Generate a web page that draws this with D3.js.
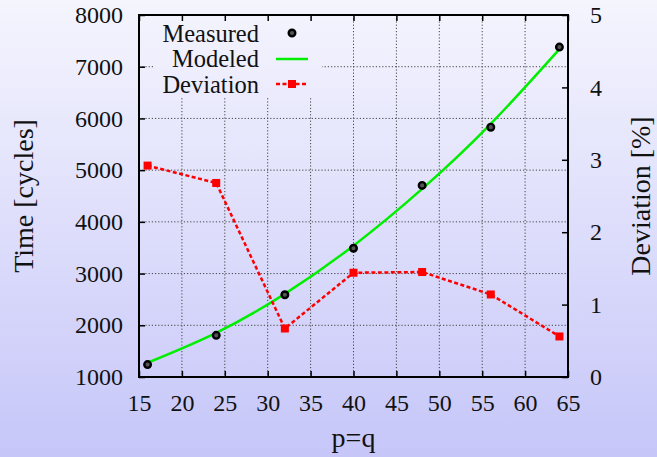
<!DOCTYPE html>
<html lang='en'>
	<head>
		<meta charset='utf-8'>
		<title>Time vs p=q</title>
		<script type='text/javascript' src='https://cdn.jsdelivr.net/npm/d3@7/dist/d3.min.js'></script>
		<style>
			html, body { margin: 0; padding: 0; }
			svg { display: block; }
			.tick line { stroke: #000; stroke-width: 1.5px; }
			g.grid line { stroke: #444; stroke-width: 1px; stroke-dasharray: 1.2,2; }
		</style>
	</head>
	<body>
		<script type='text/javascript'>
			var width = 657;
			var height = 457;
			var serif = "Liberation Serif, DejaVu Serif, serif";

			// data
			var pq = [16, 24, 32, 40, 48, 56, 64];
			var measured = [1240, 1806, 2590, 3490, 4705, 5830, 7380];
			var modeled = [1276, 1854, 2607, 3540, 4637, 5896, 7340];
			var deviation = [2.92, 2.68, 0.67, 1.44, 1.45, 1.14, 0.56];

			var xTicks = [15, 20, 25, 30, 35, 40, 45, 50, 55, 60, 65];
			var yTicks = [1000, 2000, 3000, 4000, 5000, 6000, 7000, 8000];
			var y2Ticks = [0, 1, 2, 3, 4, 5];
			var legendNames = ['Measured', 'Modeled', 'Deviation'];

			var pLeft = 139, pRight = 568, pTop = 15, pBottom = 377;

			var x = d3.scaleLinear().domain([15, 65]).range([pLeft, pRight]);
			var y = d3.scaleLinear().domain([1000, 8000]).range([pBottom, pTop]);
			var y2 = d3.scaleLinear().domain([0, 5]).range([pBottom, pTop]);

			var svg = d3.select('body').append('svg')
				.attr('width', width)
				.attr('height', height)
				.style('font-family', serif);

			var defs = svg.append('defs');
			var grad = defs.append('linearGradient')
				.attr('id', 'bg')
				.attr('gradientUnits', 'userSpaceOnUse')
				.attr('x1', 0).attr('y1', 0).attr('x2', 0).attr('y2', height);
			grad.append('stop').attr('offset', '0%').attr('stop-color', '#f5f5fe');
			grad.append('stop').attr('offset', '100%').attr('stop-color', '#c6c6f9');

			svg.append('rect')
				.attr('width', width).attr('height', height)
				.attr('fill', 'url(#bg)');

			// grid
			var grid = svg.append('g').attr('class', 'grid');
			grid.selectAll('line.v')
				.data(xTicks.slice(1, -1))
				.enter().append('line')
					.attr('class', 'v')
					.attr('x1', function(d) { return x(d); })
					.attr('x2', function(d) { return x(d); })
					.attr('y1', pTop).attr('y2', pBottom);
			grid.selectAll('line.h')
				.data(yTicks.slice(1, -1))
				.enter().append('line')
					.attr('class', 'h')
					.attr('x1', pLeft).attr('x2', pRight)
					.attr('y1', function(d) { return y(d); })
					.attr('y2', function(d) { return y(d); });

			// legend box blanks the grid behind it
			svg.append('rect')
				.attr('x', 155).attr('y', pTop + 1)
				.attr('width', 167).attr('height', 81)
				.attr('fill', 'url(#bg)');

			// axes
			function styleAxis(g) {
				g.select('.domain').remove();
				g.selectAll('.tick text')
					.style('font-family', serif)
					.style('font-size', '24px')
					.attr('fill', '#111');
			}
			svg.append('g')
				.attr('transform', 'translate(0,' + pBottom + ')')
				.call(d3.axisBottom(x).tickValues(xTicks).tickSize(-6).tickPadding(17))
				.call(styleAxis);
			svg.append('g')
				.attr('transform', 'translate(0,' + pTop + ')')
				.call(d3.axisTop(x).tickValues(xTicks).tickSize(-6).tickFormat(''))
				.call(styleAxis);
			svg.append('g')
				.attr('transform', 'translate(' + pLeft + ',0)')
				.call(d3.axisLeft(y).tickValues(yTicks).tickSize(-6).tickPadding(16).tickFormat(d3.format('d')))
				.call(styleAxis);
			svg.append('g')
				.attr('transform', 'translate(' + pRight + ',0)')
				.call(d3.axisRight(y2).tickValues(y2Ticks).tickSize(-6).tickPadding(22).tickFormat(d3.format('d')))
				.call(styleAxis);

			svg.append('rect')
				.attr('x', pLeft).attr('y', pTop)
				.attr('width', pRight - pLeft).attr('height', pBottom - pTop)
				.attr('fill', 'none')
				.attr('stroke', '#000')
				.attr('stroke-width', 2);

			// labels
			function label(sel) {
				sel.style('font-size', '28px').attr('fill', '#111').attr('text-anchor', 'middle');
			}
			svg.append('text').call(label)
				.attr('transform', 'translate(33,' + ((pTop + pBottom) / 2) + ') rotate(-90)')
				.text('Time [cycles]');
			svg.append('text').call(label)
				.attr('transform', 'translate(650,' + ((pTop + pBottom) / 2) + ') rotate(-90)')
				.text('Deviation [%]');
			svg.append('text').call(label)
				.attr('x', (pLeft + pRight) / 2).attr('y', 447)
				.text('p=q');

			var points = pq.map(function(d, i) {
				return { p: d, m: measured[i], f: modeled[i], dev: deviation[i] };
			});

			// modeled curve
			svg.append('path')
				.datum(points)
				.attr('fill', 'none')
				.attr('stroke', '#00ee00')
				.attr('stroke-width', 2.5)
				.attr('d', d3.line()
					.curve(d3.curveNatural)
					.x(function(d) { return x(d.p); })
					.y(function(d) { return y(d.f); }));

			// measured points
			function dot(sel) {
				sel.attr('r', 3.3)
					.attr('fill', '#555')
					.attr('stroke', '#000')
					.attr('stroke-width', 2.4);
			}
			svg.append('g').selectAll('circle')
				.data(points)
				.enter().append('circle')
					.attr('cx', function(d) { return x(d.p); })
					.attr('cy', function(d) { return y(d.m); })
					.call(dot);

			// deviation
			svg.append('path')
				.datum(points)
				.attr('fill', 'none')
				.attr('stroke', '#ff0000')
				.attr('stroke-width', 2.5)
				.attr('stroke-dasharray', '4,2.5')
				.attr('d', d3.line()
					.x(function(d) { return x(d.p); })
					.y(function(d) { return y2(d.dev); }));
			svg.append('g').selectAll('rect')
				.data(points)
				.enter().append('rect')
					.attr('x', function(d) { return x(d.p) - 4; })
					.attr('y', function(d) { return y2(d.dev) - 4; })
					.attr('width', 8).attr('height', 8)
					.attr('fill', '#ff0000');

			// legend
			var legend = svg.append('g');
			legend.selectAll('text')
				.data(legendNames)
				.enter().append('text')
					.attr('x', 259)
					.attr('y', function(d, i) { return 33 + i * 25.5; })
					.attr('dy', '0.35em')
					.style('font-size', '24.5px')
					.attr('fill', '#111')
					.attr('text-anchor', 'end')
					.text(function(d) { return d; });
			legend.append('circle')
				.attr('cx', 292).attr('cy', 33)
				.call(dot);
			legend.append('line')
				.attr('x1', 276).attr('x2', 308)
				.attr('y1', 59).attr('y2', 59)
				.attr('stroke', '#00ee00').attr('stroke-width', 2.5);
			legend.append('line')
				.attr('x1', 276).attr('x2', 308)
				.attr('y1', 84).attr('y2', 84)
				.attr('stroke', '#ff0000').attr('stroke-width', 2.5)
				.attr('stroke-dasharray', '4,2.5');
			legend.append('rect')
				.attr('x', 288).attr('y', 80)
				.attr('width', 8).attr('height', 8)
				.attr('fill', '#ff0000');
		</script>
	</body>
</html>
